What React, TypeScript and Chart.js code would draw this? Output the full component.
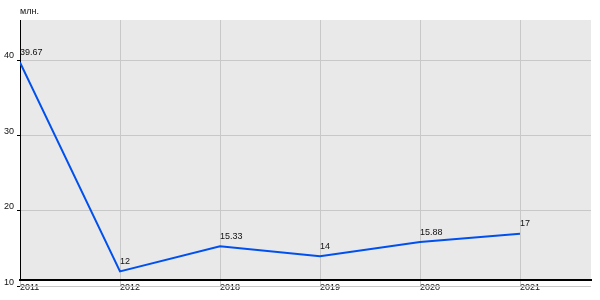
import React, { useEffect, useRef } from "react";
import { Chart, registerables } from "chart.js";

Chart.register(...registerables);

const categories = ["2011", "2012", "2018", "2019", "2020", "2021"];
const values = [39.67, 12, 15.33, 14, 15.88, 17];
const yTicks = [10, 20, 30, 40];
const unitLabel = "млн.";

const FONT = "'Liberation Sans', Arial, sans-serif";

export default function App() {
  const ref = useRef<HTMLCanvasElement | null>(null);
  useEffect(() => {
    if (!ref.current) return;
    const bgPlugin = {
      id: "bg",
      beforeDraw(chart: any) {
        const { ctx, chartArea: a } = chart;
        ctx.save();
        ctx.fillStyle = "#e9e9e9";
        ctx.fillRect(a.left, a.top, a.right - a.left, a.bottom - a.top);
        ctx.restore();
      },
      afterDraw(chart: any) {
        // grid line for the tick that lies below the plotted range
        const { ctx, chartArea: a } = chart;
        const ys = chart.scales.y;
        ctx.save();
        yTicks.forEach((v) => {
          const py = ys.getPixelForValue(v);
          if (py > a.bottom + 1) {
            const y = Math.round(py) + 0.5;
            ctx.strokeStyle = "#c8c8c8";
            ctx.lineWidth = 1;
            ctx.beginPath();
            ctx.moveTo(a.left, y);
            ctx.lineTo(a.right, y);
            ctx.stroke();
            ctx.strokeStyle = "#000";
            ctx.beginPath();
            ctx.moveTo(a.left - 3, y);
            ctx.lineTo(a.left, y);
            ctx.stroke();
          }
        });
        ctx.restore();
      },
    };
    const labelPlugin = {
      id: "labels",
      afterDatasetsDraw(chart: any) {
        const { ctx } = chart;
        const meta = chart.getDatasetMeta(0);
        ctx.save();
        ctx.font = `9px ${FONT}`;
        ctx.fillStyle = "#111";
        ctx.textAlign = "left";
        ctx.textBaseline = "middle";
        meta.data.forEach((p: any, i: number) => {
          ctx.fillText(String(values[i]), p.x, p.y - 10);
        });
        ctx.fillText(unitLabel, chart.chartArea.left, 12);
        ctx.restore();
      },
    };
    const chart = new Chart(ref.current, {
      type: "line",
      data: {
        datasets: [
          {
            data: values.map((v, i) => ({ x: i, y: v })),
            borderColor: "#0050ee",
            borderWidth: 2,
            pointRadius: 0,
            tension: 0,
            fill: false,
          },
        ],
      },
      options: {
        animation: false,
        responsive: false,
        layout: { padding: { top: 20, right: 9, left: 0, bottom: 0 } },
        plugins: { legend: { display: false }, tooltip: { enabled: false } },
        scales: {
          x: {
            type: "linear",
            min: 0,
            max: 5.71,
            afterBuildTicks: (s: any) => {
              s.ticks = categories.map((_, i) => ({ value: i }));
            },
            afterFit: (s: any) => {
              s.height = 20;
            },
            ticks: {
              callback: (v: any) => categories[v] ?? "",
              align: "start",
              maxRotation: 0,
              autoSkip: false,
              font: { size: 9, family: FONT },
              color: "#111",
              padding: -4,
            },
            grid: { color: "#c8c8c8", tickColor: "#c8c8c8", tickLength: 6 },
            border: { color: "#000", width: 2 },
          },
          y: {
            min: 10.86,
            max: 45.3,
            afterBuildTicks: (s: any) => {
              s.ticks = yTicks.map((v) => ({ value: v }));
            },
            afterFit: (s: any) => {
              s.width = 20;
            },
            ticks: {
              font: { size: 9, family: FONT },
              color: "#111",
              padding: 3,
              labelOffset: -4,
              autoSkip: false,
            },
            grid: { color: "#c8c8c8", tickColor: "#000", tickLength: 3 },
            border: { color: "#000", width: 1 },
          },
        },
      },
      plugins: [bgPlugin, labelPlugin],
    });
    return () => chart.destroy();
  }, []);
  return (
    <div style={{ position: "fixed", left: 0, top: 0, width: 600, height: 300, background: "#fff" }}>
      <canvas ref={ref} width={600} height={300} style={{ width: 600, height: 300 }} />
    </div>
  );
}
